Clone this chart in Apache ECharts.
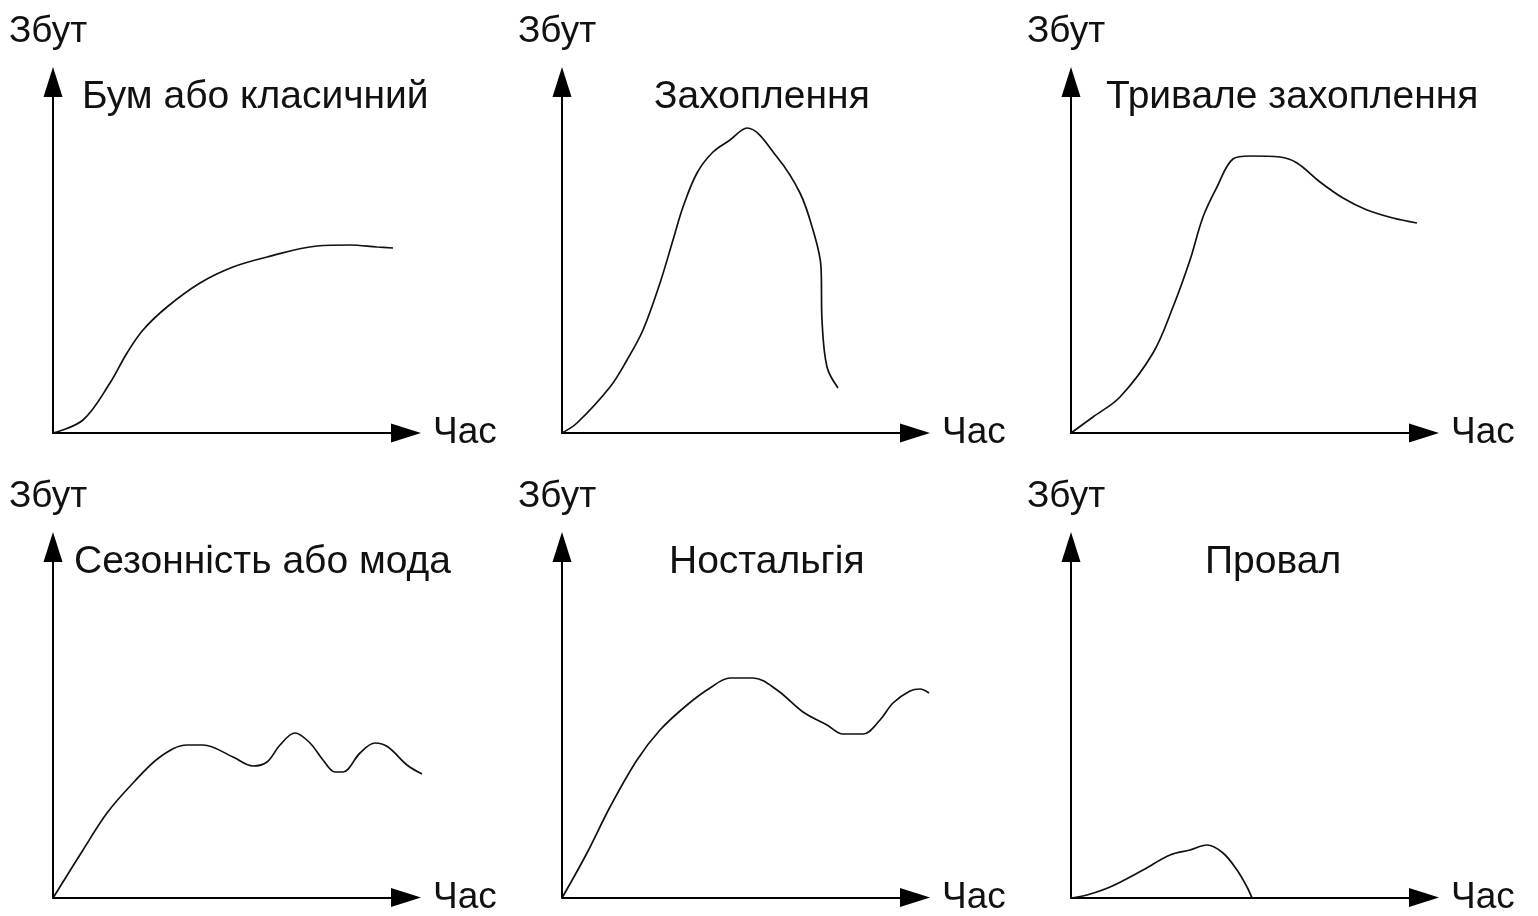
<!DOCTYPE html>
<html>
<head>
<meta charset="utf-8">
<script src="https://cdn.jsdelivr.net/npm/echarts@6/dist/echarts.min.js"></script>
<style>
  html, body { margin: 0; padding: 0; background: #fff; }
  #chart { width: 1538px; height: 916px; }
</style>
</head>
<body>
<div id="chart"></div>
<script>
// типи життєвого циклу товару
const titles = ['Бум або класичний', 'Захоплення', 'Тривале захоплення',
                'Сезонність або мода', 'Ностальгія', 'Провал']
const yName = 'Збут'
const xName = 'Час'

// криві: час (x) і збут (y), у тих самих умовних одиницях, що й осі
const boomX = [0, 30, 57, 74, 90, 114, 147, 180, 214, 264, 297, 324, 340]
const boomY = [0, 13, 50, 80, 103, 126, 150, 166, 176, 187, 188, 186, 185]

const fadX = [0, 15, 48, 65, 81, 98, 111, 121, 135, 151, 168, 185, 215, 238, 251, 259, 260, 265, 276]
const fadY = [0, 10, 46, 73, 103, 150, 193, 226, 260, 281, 293, 305, 276, 240, 203, 166, 113, 66, 45]

const longFadX = [0, 22, 49, 82, 102, 119, 132, 146, 162, 179, 209, 226, 249, 272, 296, 322, 346]
const longFadY = [0, 16, 36, 80, 126, 173, 216, 246, 274, 277, 276, 270, 251, 235, 223, 215, 210]

const seasonX = [0, 30, 54, 80, 107, 134, 150, 180, 200, 214, 227, 242, 257, 270, 282, 290, 307, 322, 335, 354, 369]
const seasonY = [0, 48, 85, 115, 141, 153, 153, 141, 132, 136, 153, 165, 155, 138, 126, 126, 145, 155, 151, 133, 124]

const nostX = [0, 25, 48, 75, 98, 125, 148, 168, 191, 215, 241, 265, 281, 301, 318, 331, 348, 358, 367]
const nostY = [0, 45, 91, 138, 168, 193, 210, 220, 220, 208, 186, 173, 164, 164, 178, 195, 207, 209, 205]

const flopX = [0, 16, 39, 72, 99, 119, 136, 152, 166, 176, 181]
const flopY = [0, 3, 11, 28, 43, 48, 53, 45, 28, 11, 0]

const curves = [[boomX, boomY], [fadX, fadY], [longFadX, longFadY],
                [seasonX, seasonY], [nostX, nostY], [flopX, flopY]]

const xMax = 353     // довжина осі часу (до стрілки)
const yMax = 351     // довжина осі збуту
const plotXMax = 390 // крива може заходити трохи далі за кінець осі

// розміщення панелей
const originsX = [53, 562, 1071]
const originsY = [433, 898]
const titleLeft = [77, 649, 1101, 69, 664, 1200]
const titleTop = [70, 70, 70, 535, 535, 535]

const font = 'Liberation Sans, Arial, sans-serif'

var myChart = echarts.init(document.getElementById('chart'))

var grids = [], xAxes = [], yAxes = [], series = [], titleList = []
const axisLine = {
  show: true,
  symbol: ['none', 'triangle'],
  symbolSize: [19, 30],
  lineStyle: { color: '#000', width: 2 }
}
// сітки з осями
for (let i = 0; i < 6; i++) {
  const ox = originsX[i % 3], oy = originsY[Math.floor(i / 3)]
  grids.push({ left: ox, top: oy - yMax, width: xMax, height: yMax })
  xAxes.push({
    gridIndex: i, type: 'value', min: 0, max: xMax,
    name: xName, nameLocation: 'end', nameGap: 27,
    nameTextStyle: { fontSize: 37, color: '#111', fontFamily: font },
    axisLine: axisLine, axisTick: { show: false }, axisLabel: { show: false },
    splitLine: { show: false }
  })
  yAxes.push({
    gridIndex: i, type: 'value', min: 0, max: yMax,
    name: yName, nameLocation: 'end', nameGap: 32,
    nameTextStyle: { fontSize: 37, color: '#111', fontFamily: font, padding: [0, 10, 0, 0] },
    axisLine: axisLine, axisTick: { show: false }, axisLabel: { show: false },
    splitLine: { show: false }
  })
  titleList.push({
    text: titles[i], left: titleLeft[i], top: titleTop[i],
    textStyle: { fontSize: 39, fontWeight: 'normal', color: '#111', fontFamily: font, lineHeight: 44 }
  })
}
// сітки для кривих (той самий масштаб, без осей)
for (let i = 0; i < 6; i++) {
  const ox = originsX[i % 3], oy = originsY[Math.floor(i / 3)]
  const g = 6 + i
  grids.push({ left: ox, top: oy - yMax, width: plotXMax, height: yMax })
  xAxes.push({ gridIndex: g, type: 'value', min: 0, max: plotXMax, show: false })
  yAxes.push({ gridIndex: g, type: 'value', min: 0, max: yMax, show: false })
  const xs = curves[i][0], ys = curves[i][1]
  series.push({
    type: 'line', xAxisIndex: g, yAxisIndex: g,
    data: xs.map((x, k) => [x, ys[k]]),
    smooth: 0.35, showSymbol: false, silent: true,
    lineStyle: { color: '#111', width: 1.7 }
  })
}

myChart.setOption({
  backgroundColor: '#fff',
  animation: false,
  title: titleList,
  grid: grids,
  xAxis: xAxes,
  yAxis: yAxes,
  series: series
})
</script>
</body>
</html>
